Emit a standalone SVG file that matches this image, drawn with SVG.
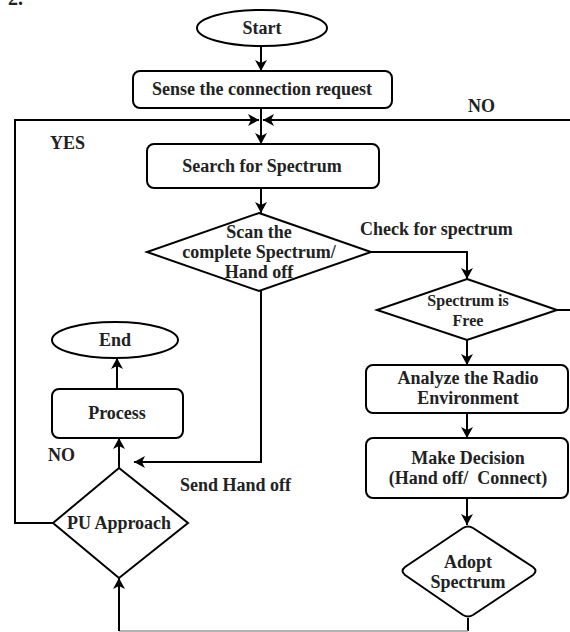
<svg xmlns="http://www.w3.org/2000/svg" width="570" height="632" viewBox="0 0 570 632">
<defs>
<marker id="ah" markerUnits="userSpaceOnUse" markerWidth="12" markerHeight="12" refX="11" refY="6" orient="auto">
<path d="M0,0 L11,6 L0,12 L3,6 Z" fill="#000"/>
</marker>
<style>
.s{fill:#fff;stroke:#000;stroke-width:2}
.c{fill:none;stroke:#000;stroke-width:2}
.t{font-family:"Liberation Serif","Times New Roman",serif;font-weight:bold;font-size:18px;fill:#222;text-anchor:middle}
.l{font-family:"Liberation Serif","Times New Roman",serif;font-weight:bold;font-size:18px;fill:#222}
</style>
</defs>
<rect width="570" height="632" fill="#fff"/>
<text class="l" x="8" y="5" style="font-size:20px">2.</text>
<g id="connectors">
<path class="c" d="M261,46 V71" marker-end="url(#ah)"/>
<path class="c" d="M53,523 H15 V120 H259" marker-end="url(#ah)"/>
<path class="c" d="M570,120 H263" marker-end="url(#ah)"/>
<path class="c" d="M261,108 V144" marker-end="url(#ah)"/>
<path class="c" d="M261,188 V213" marker-end="url(#ah)"/>
<path class="c" d="M261,291 V462 H134" marker-end="url(#ah)"/>
<path class="c" d="M371,252 H467 V279" marker-end="url(#ah)"/>
<path class="c" d="M557,310 H570"/>
<path class="c" d="M467,340 V365" marker-end="url(#ah)"/>
<path class="c" d="M467,413 V438" marker-end="url(#ah)"/>
<path class="c" d="M467,498 V525" marker-end="url(#ah)"/>
<path class="c" d="M468,618 V631"/>
<path fill="none" stroke="#999" stroke-width="1.5" d="M468,631 H119"/>
<path class="c" d="M119,631 V578" marker-end="url(#ah)"/>
<path class="c" d="M119,468 V438" marker-end="url(#ah)"/>
<path class="c" d="M117,389 V358" marker-end="url(#ah)"/>
</g>
<g id="start">
<ellipse class="s" cx="262" cy="28" rx="65" ry="18"/>
<text class="t" x="262" y="34">Start</text>
</g>
<g id="sense">
<rect class="s" x="133" y="71" width="259" height="37" rx="7"/>
<text class="t" x="262" y="95">Sense the connection request</text>
</g>
<g id="search">
<rect class="s" x="147" y="144" width="232" height="44" rx="7"/>
<text class="t" x="262" y="172">Search for Spectrum</text>
</g>
<g id="scan">
<polygon class="s" points="259,213 371,252 259,291 147,252"/>
<text class="t" x="259" y="238">Scan the</text>
<text class="t" x="259" y="258">complete Spectrum/</text>
<text class="t" x="259" y="278">Hand off</text>
</g>
<g id="free">
<polygon class="s" points="467,279 557,310 467,340 377,310"/>
<text class="t" x="468" y="306" style="font-size:16px">Spectrum is</text>
<text class="t" x="468" y="326" style="font-size:16px">Free</text>
</g>
<g id="analyze">
<rect class="s" x="366" y="365" width="202" height="48" rx="7"/>
<text class="t" x="468" y="384">Analyze the Radio</text>
<text class="t" x="468" y="404">Environment</text>
</g>
<g id="decision">
<rect class="s" x="366" y="438" width="202" height="60" rx="7"/>
<text class="t" x="468" y="464">Make Decision</text>
<text class="t" x="468" y="484" xml:space="preserve">(Hand off/  Connect)</text>
</g>
<g id="adopt">
<path class="s" d="M463,528 Q468,525 473,528 L533,567 Q538,571 533,575 L473,615 Q468,618 463,615 L405,575 Q400,571 405,567 Z"/>
<text class="t" x="468" y="568">Adopt</text>
<text class="t" x="468" y="588">Spectrum</text>
</g>
<g id="end">
<ellipse class="s" cx="115" cy="340" rx="63" ry="18"/>
<text class="t" x="115" y="346">End</text>
</g>
<g id="process">
<rect class="s" x="52" y="389" width="131" height="49" rx="7"/>
<text class="t" x="117" y="419">Process</text>
</g>
<g id="pu">
<polygon class="s" points="119,468 188,523 119,578 53,523"/>
<text class="t" x="119" y="529">PU Approach</text>
</g>
<g id="labels">
<text class="l" x="50" y="149">YES</text>
<text class="l" x="468" y="112">NO</text>
<text class="l" x="48" y="461">NO</text>
<text class="l" x="360" y="235">Check for spectrum</text>
<text class="l" x="180" y="491">Send Hand off</text>
</g>
</svg>
